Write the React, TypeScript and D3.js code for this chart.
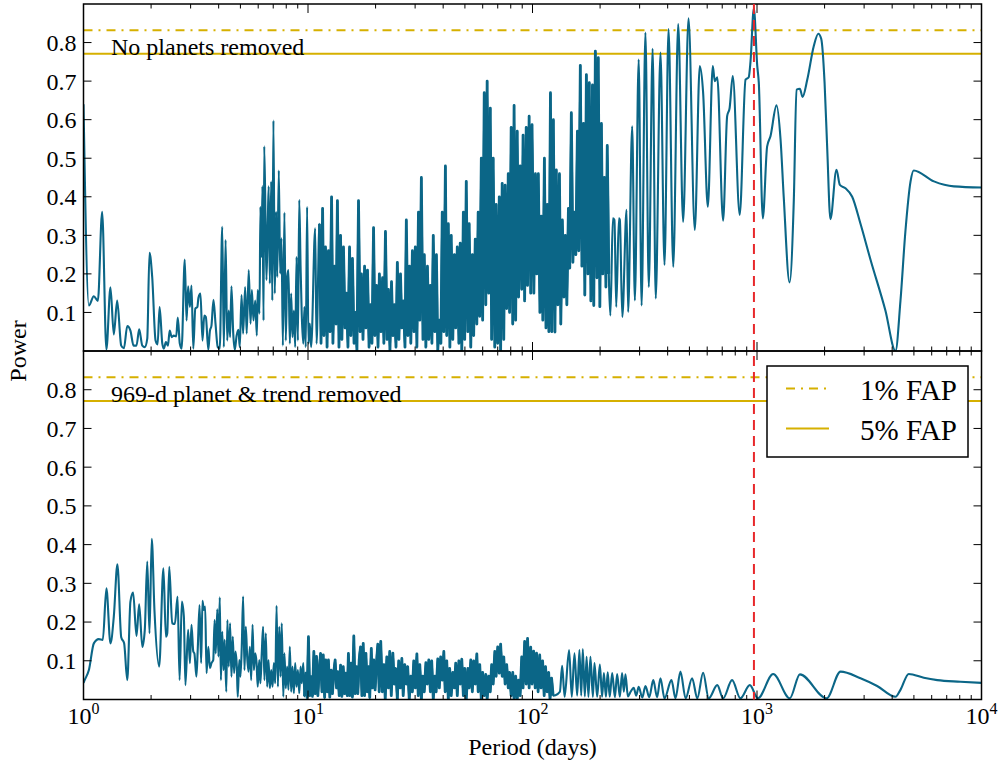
import React from 'react';
import * as d3 from 'd3';

// Axis set-up
const periodDomain: [number, number] = [1, 10000];
const powerDomain: [number, number] = [0, 0.9];
const powerTicks = [0.1, 0.2, 0.3, 0.4, 0.5, 0.6, 0.7, 0.8];
const periodDecades = [0, 1, 2, 3, 4];
const minorMultipliers = [2, 3, 4, 5, 6, 7, 8, 9];

// False-alarm-probability thresholds and the planet period (days)
const fap1 = 0.832;
const fap5 = 0.771;
const planetPeriod = 969;

const panelLabels = ['No planets removed', '969-d planet & trend removed'];
const legendLabels = ['1% FAP', '5% FAP'];
const xTitle = 'Period (days)';
const yTitle = 'Power';

// Periodogram samples as [log10(period / day), power]
const topShort: [number, number][] = [
  [0.000, 0.64], [0.024, 0.118], [0.046, 0.142], [0.064, 0.13], [0.083, 0.361], [0.102, 0.004], [0.120, 0.165], [0.135, 0.043],
  [0.150, 0.131], [0.168, 0.014], [0.180, 0.007], [0.195, 0.065], [0.209, 0.053], [0.223, 0.014], [0.236, 0.014], [0.248, 0.056],
  [0.262, 0.014], [0.273, 0.01], [0.284, 0.032], [0.294, 0.255], [0.306, 0.192], [0.321, 0.027], [0.330, 0.017], [0.339, 0.114],
  [0.351, 0.019], [0.358, 0.006], [0.367, 0.023], [0.376, 0.014], [0.384, 0.053], [0.393, 0.036], [0.402, 0.04], [0.413, 0.038],
  [0.420, 0.087], [0.429, 0.019], [0.437, 0.006], [0.451, 0.237], [0.459, 0.079], [0.466, 0.168], [0.474, 0.114], [0.481, 0.17],
  [0.489, 0.006], [0.498, 0.11], [0.507, 0.114], [0.512, 0.138], [0.521, 0.149], [0.530, 0.027], [0.538, 0.092], [0.545, 0.088],
  [0.556, 0.003], [0.563, 0.052], [0.570, 0.066], [0.579, 0.133], [0.588, 0.071], [0.598, 0.01], [0.607, 0.006], [0.618, 0.322],
  [0.625, 0.01], [0.633, 0.288], [0.640, 0.027], [0.647, 0.105], [0.653, 0.036], [0.659, 0.168], [0.667, 0.045], [0.674, 0.003],
  [0.682, 0.04], [0.690, 0.055], [0.696, 0.01], [0.704, 0.145], [0.711, 0.045], [0.720, 0.166], [0.727, 0.045], [0.736, 0.21],
  [0.744, 0.071], [0.750, 0.158], [0.757, 0.079], [0.765, 0.131], [0.772, 0.04], [0.776, 0.158], [0.784, 0.097], [0.788, 0.374],
  [0.793, 0.244], [0.797, 0.428], [0.802, 0.079], [0.805, 0.531], [0.811, 0.331], [0.815, 0.184], [0.821, 0.34], [0.825, 0.427],
  [0.830, 0.175], [0.836, 0.44], [0.841, 0.131], [0.846, 0.598], [0.852, 0.149], [0.858, 0.361], [0.863, 0.192], [0.870, 0.468],
  [0.876, 0.201], [0.882, 0.292], [0.888, 0.014], [0.895, 0.359], [0.901, 0.027], [0.907, 0.192], [0.913, 0.21], [0.919, 0.019],
  [0.925, 0.149], [0.931, 0.036], [0.937, 0.105], [0.943, 0.01], [0.949, 0.244], [0.955, 0.027], [0.961, 0.392], [0.967, 0.218],
  [0.972, 0.097], [0.979, 0.019], [0.984, 0.114], [0.990, 0.01], [0.996, 0.374], [1.002, 0.019], [1.008, 0.071], [1.014, 0.01],
  [1.032, 0.318], [1.038, 0.019],
];

const topMid: [number, number][] = [
  [1.051, 0.33], [1.058, 0.02], [1.065, 0.37], [1.071, 0.04], [1.078, 0.27], [1.085, 0.01], [1.091, 0.26], [1.098, 0.05], [1.105, 0.40], [1.111, 0.02],
  [1.118, 0.22], [1.125, 0.07], [1.131, 0.39], [1.138, 0.01], [1.145, 0.30], [1.151, 0.03], [1.158, 0.27], [1.165, 0.06], [1.171, 0.15], [1.178, 0.01],
  [1.185, 0.27], [1.191, 0.04], [1.198, 0.24], [1.205, 0.02], [1.211, 0.10], [1.218, 0.00], [1.225, 0.39], [1.232, 0.05], [1.238, 0.20], [1.245, 0.03],
  [1.252, 0.22], [1.258, 0.06], [1.265, 0.21], [1.272, 0.01], [1.278, 0.12], [1.285, 0.02], [1.292, 0.32], [1.298, 0.04], [1.305, 0.17], [1.312, 0.01],
  [1.318, 0.20], [1.325, 0.05], [1.332, 0.19], [1.338, 0.02], [1.345, 0.31], [1.352, 0.03], [1.358, 0.16], [1.365, 0.00], [1.372, 0.18], [1.378, 0.04],
  [1.385, 0.12], [1.392, 0.01], [1.398, 0.23], [1.405, 0.03], [1.412, 0.20], [1.418, 0.06], [1.425, 0.13], [1.432, 0.01], [1.438, 0.34], [1.445, 0.04],
  [1.452, 0.22], [1.458, 0.02], [1.465, 0.26], [1.472, 0.05], [1.478, 0.27], [1.485, 0.01], [1.492, 0.36], [1.498, 0.08], [1.505, 0.45], [1.512, 0.03],
  [1.518, 0.25], [1.525, 0.01], [1.532, 0.22], [1.538, 0.03], [1.545, 0.17], [1.552, 0.02], [1.558, 0.30], [1.565, 0.05], [1.572, 0.25], [1.578, 0.00],
  [1.585, 0.08], [1.592, 0.02], [1.598, 0.36], [1.605, 0.05], [1.612, 0.48], [1.618, 0.04], [1.625, 0.33], [1.632, 0.01], [1.638, 0.30], [1.645, 0.03],
  [1.652, 0.25], [1.658, 0.06], [1.665, 0.27], [1.672, 0.02], [1.678, 0.28], [1.685, 0.00], [1.692, 0.36], [1.698, 0.03], [1.705, 0.44], [1.712, 0.05],
  [1.718, 0.33], [1.725, 0.01], [1.732, 0.25], [1.738, 0.04], [1.745, 0.29], [1.752, 0.07], [1.758, 0.36], [1.765, 0.09], [1.772, 0.50], [1.778, 0.08],
  [1.785, 0.67], [1.792, 0.12], [1.798, 0.70], [1.805, 0.15], [1.812, 0.63], [1.818, 0.03], [1.825, 0.50], [1.832, 0.01], [1.838, 0.38], [1.845, 0.02],
  [1.852, 0.40], [1.858, 0.00], [1.865, 0.435], [1.872, 0.03], [1.878, 0.43], [1.885, 0.11], [1.892, 0.46], [1.898, 0.10], [1.905, 0.58], [1.912, 0.07],
  [1.918, 0.637], [1.925, 0.08], [1.932, 0.57], [1.938, 0.14], [1.945, 0.48], [1.952, 0.16], [1.958, 0.56], [1.965, 0.13], [1.972, 0.58], [1.978, 0.17],
  [1.985, 0.609], [1.992, 0.15], [1.998, 0.587], [2.006, 0.15], [2.013, 0.46], [2.019, 0.2], [2.026, 0.46], [2.033, 0.10], [2.039, 0.35], [2.046, 0.08],
  [2.053, 0.50], [2.060, 0.06], [2.066, 0.38], [2.073, 0.05], [2.080, 0.67], [2.086, 0.05], [2.093, 0.60], [2.100, 0.049], [2.106, 0.47], [2.113, 0.12],
  [2.120, 0.46], [2.126, 0.07], [2.133, 0.34], [2.140, 0.14], [2.146, 0.30], [2.153, 0.12], [2.160, 0.37], [2.166, 0.215], [2.173, 0.618], [2.180, 0.23],
  [2.186, 0.36], [2.193, 0.25], [2.200, 0.57], [2.206, 0.26], [2.213, 0.741], [2.220, 0.22], [2.227, 0.59], [2.233, 0.145], [2.240, 0.717], [2.247, 0.2],
  [2.253, 0.696], [2.260, 0.13], [2.267, 0.69], [2.273, 0.118], [2.280, 0.778], [2.287, 0.19], [2.293, 0.761], [2.300, 0.115], [2.307, 0.59], [2.313, 0.2],
  [2.320, 0.45], [2.327, 0.166], [2.333, 0.533], [2.340, 0.2],
];

const topLong: [number, number][] = [
  [2.347, 0.092], [2.358, 0.344], [2.365, 0.34], [2.373, 0.114], [2.385, 0.344], [2.389, 0.34], [2.400, 0.088], [2.419, 0.366],
  [2.426, 0.101], [2.444, 0.583], [2.456, 0.131], [2.473, 0.756], [2.486, 0.118], [2.503, 0.826], [2.518, 0.166], [2.535, 0.784],
  [2.549, 0.136], [2.570, 0.774], [2.588, 0.223], [2.606, 0.835], [2.627, 0.218], [2.649, 0.848], [2.671, 0.335], [2.695, 0.863],
  [2.723, 0.314], [2.745, 0.739], [2.760, 0.67], [2.781, 0.374], [2.803, 0.739], [2.812, 0.70], [2.823, 0.71], [2.849, 0.338],
  [2.867, 0.609], [2.878, 0.63], [2.892, 0.713], [2.923, 0.353], [2.949, 0.704], [2.963, 0.71], [2.971, 0.75], [2.986, 0.889],
  [3.001, 0.74], [3.008, 0.696], [3.026, 0.344], [3.045, 0.53], [3.060, 0.557], [3.087, 0.637], [3.105, 0.548], [3.119, 0.40],
  [3.145, 0.178], [3.164, 0.392], [3.176, 0.678], [3.191, 0.68], [3.203, 0.659], [3.224, 0.704], [3.253, 0.791], [3.273, 0.823],
  [3.286, 0.81], [3.301, 0.696], [3.313, 0.522], [3.327, 0.342], [3.354, 0.47], [3.369, 0.431], [3.394, 0.422], [3.424, 0.40],
  [3.461, 0.33], [3.506, 0.236], [3.572, 0.105], [3.617, 0.0], [3.639, 0.13], [3.661, 0.31], [3.684, 0.44], [3.698, 0.468],
  [3.788, 0.44], [3.877, 0.427], [4.0, 0.424],
];

const bottomShort: [number, number][] = [
  [0.000, 0.043], [0.005, 0.05], [0.024, 0.076], [0.046, 0.145], [0.068, 0.156], [0.086, 0.154], [0.102, 0.287], [0.120, 0.145],
  [0.135, 0.214], [0.151, 0.349], [0.168, 0.161], [0.181, 0.145], [0.195, 0.05], [0.209, 0.253], [0.221, 0.276], [0.236, 0.164],
  [0.248, 0.246], [0.262, 0.136], [0.273, 0.18], [0.284, 0.356], [0.294, 0.171], [0.304, 0.415], [0.316, 0.231], [0.337, 0.085],
  [0.356, 0.339], [0.367, 0.162], [0.373, 0.171], [0.382, 0.343], [0.395, 0.197], [0.407, 0.195], [0.419, 0.266], [0.428, 0.05],
  [0.438, 0.253], [0.447, 0.214], [0.454, 0.037], [0.466, 0.18], [0.474, 0.094], [0.481, 0.193], [0.489, 0.124], [0.494, 0.119],
  [0.503, 0.059], [0.509, 0.132], [0.517, 0.244], [0.524, 0.094], [0.530, 0.255], [0.536, 0.231], [0.542, 0.24], [0.548, 0.068],
  [0.556, 0.136], [0.563, 0.081], [0.570, 0.094], [0.578, 0.102], [0.584, 0.205], [0.589, 0.119], [0.596, 0.233], [0.601, 0.111],
  [0.607, 0.264], [0.612, 0.05], [0.618, 0.175], [0.624, 0.076], [0.629, 0.154], [0.636, 0.02], [0.641, 0.205], [0.647, 0.085],
  [0.653, 0.197], [0.659, 0.059], [0.665, 0.162], [0.671, 0.068], [0.677, 0.124], [0.683, 0.085], [0.687, 0.007], [0.694, 0.102],
  [0.699, 0.059], [0.705, 0.136], [0.711, 0.266], [0.717, 0.076], [0.723, 0.188], [0.729, 0.111], [0.735, 0.072], [0.741, 0.136],
  [0.747, 0.05], [0.753, 0.193], [0.759, 0.076], [0.765, 0.119], [0.771, 0.094], [0.776, 0.033], [0.783, 0.102], [0.788, 0.042],
  [0.794, 0.119], [0.800, 0.188], [0.806, 0.05], [0.812, 0.171], [0.818, 0.033], [0.824, 0.102], [0.830, 0.029], [0.836, 0.076],
  [0.842, 0.033], [0.848, 0.094], [0.854, 0.042], [0.860, 0.242], [0.866, 0.033], [0.872, 0.188], [0.878, 0.059], [0.883, 0.197],
  [0.890, 0.007], [0.895, 0.119], [0.901, 0.029], [0.907, 0.085], [0.913, 0.025], [0.919, 0.136], [0.925, 0.02], [0.931, 0.085],
  [0.937, 0.016], [0.943, 0.094], [0.949, 0.033], [0.955, 0.076], [0.961, 0.016], [0.967, 0.085], [0.972, 0.042], [0.979, 0.094],
];

const bottomMid: [number, number][] = [
  [0.984, 0.008], [0.990, 0.068], [0.996, 0.005], [1.002, 0.162], [1.008, 0.01], [1.014, 0.059], [1.020, 0.008], [1.026, 0.124],
  [1.032, 0.015], [1.038, 0.111], [1.044, 0.01], [1.050, 0.076], [1.056, 0.119], [1.062, 0.02], [1.068, 0.115], [1.074, 0.005],
  [1.079, 0.102], [1.086, 0.02], [1.091, 0.102], [1.097, 0.006], [1.103, 0.076], [1.109, 0.015], [1.115, 0.072], [1.121, 0.102],
  [1.127, 0.03], [1.133, 0.072], [1.139, 0.01], [1.145, 0.089], [1.151, 0.008], [1.157, 0.085], [1.163, 0.015], [1.168, 0.068],
  [1.175, 0.01], [1.180, 0.119], [1.186, 0.01], [1.192, 0.094], [1.198, 0.006], [1.204, 0.164], [1.210, 0.015], [1.216, 0.085],
  [1.222, 0.015], [1.228, 0.102], [1.234, 0.136], [1.240, 0.01], [1.246, 0.145], [1.252, 0.01], [1.258, 0.119], [1.264, 0.02],
  [1.270, 0.085], [1.275, 0.005], [1.282, 0.132], [1.287, 0.03], [1.293, 0.102], [1.299, 0.025], [1.305, 0.094], [1.311, 0.143],
  [1.317, 0.02],
  [1.324, 0.15], [1.331, 0.02], [1.338, 0.09], [1.344, 0.00], [1.351, 0.11], [1.358, 0.03], [1.364, 0.124], [1.371, 0.01], [1.378, 0.12], [1.384, 0.04],
  [1.391, 0.08], [1.398, 0.00], [1.404, 0.10], [1.411, 0.03], [1.418, 0.106], [1.424, 0.01], [1.431, 0.09], [1.438, 0.04], [1.444, 0.085], [1.451, 0.00],
  [1.458, 0.06], [1.465, 0.02], [1.471, 0.10], [1.478, 0.03], [1.485, 0.118], [1.491, 0.01], [1.498, 0.09], [1.505, 0.00], [1.511, 0.06], [1.518, 0.02],
  [1.525, 0.095], [1.531, 0.04], [1.538, 0.102], [1.545, 0.02], [1.551, 0.10], [1.558, 0.00], [1.565, 0.06], [1.571, 0.02], [1.578, 0.105], [1.585, 0.03],
  [1.591, 0.11], [1.598, 0.05], [1.605, 0.124], [1.611, 0.02], [1.618, 0.10], [1.625, 0.00], [1.631, 0.08], [1.638, 0.01], [1.645, 0.07], [1.652, 0.03],
  [1.658, 0.094], [1.665, 0.01], [1.672, 0.10], [1.678, 0.04], [1.685, 0.104], [1.692, 0.01], [1.698, 0.08], [1.705, 0.00], [1.712, 0.08], [1.718, 0.03],
  [1.725, 0.102], [1.732, 0.02], [1.738, 0.10], [1.745, 0.04], [1.752, 0.118], [1.758, 0.02], [1.765, 0.09], [1.772, 0.00], [1.778, 0.07], [1.785, 0.01],
  [1.792, 0.065], [1.798, 0.00], [1.805, 0.06], [1.812, 0.02], [1.818, 0.09], [1.825, 0.04], [1.832, 0.124], [1.838, 0.06], [1.845, 0.136], [1.852, 0.068],
  [1.858, 0.143], [1.865, 0.06], [1.872, 0.11], [1.878, 0.04], [1.885, 0.09], [1.892, 0.03], [1.898, 0.07], [1.905, 0.01], [1.912, 0.07], [1.918, 0.00],
  [1.925, 0.06], [1.932, 0.00], [1.938, 0.05], [1.945, 0.01], [1.952, 0.11], [1.958, 0.03], [1.965, 0.15], [1.972, 0.04], [1.978, 0.158], [1.985, 0.03],
  [1.992, 0.135], [1.998, 0.04], [2.005, 0.125], [2.012, 0.03], [2.018, 0.12], [2.025, 0.02], [2.032, 0.115], [2.038, 0.03], [2.045, 0.10], [2.052, 0.01],
  [2.058, 0.085], [2.065, 0.02], [2.072, 0.07], [2.078, 0.00], [2.085, 0.055], [2.092, 0.01],
];

const bottomLong: [number, number][] = [
  [2.102, 0.011], [2.122, 0.02], [2.132, 0.087], [2.143, 0.007], [2.163, 0.128], [2.175, 0.007], [2.187, 0.119], [2.199, 0.01],
  [2.209, 0.128], [2.217, 0.01], [2.224, 0.13], [2.233, 0.008], [2.241, 0.11], [2.249, 0.007], [2.258, 0.11], [2.269, 0.007],
  [2.276, 0.094], [2.288, 0.007], [2.300, 0.09], [2.310, 0.007], [2.318, 0.068], [2.327, 0.007], [2.335, 0.07], [2.344, 0.007],
  [2.355, 0.068], [2.367, 0.006], [2.377, 0.066], [2.389, 0.007], [2.399, 0.068], [2.407, 0.02], [2.414, 0.065], [2.425, 0.008],
  [2.437, 0.02], [2.451, 0.03], [2.462, 0.01], [2.473, 0.033], [2.489, 0.005], [2.503, 0.035], [2.520, 0.006], [2.538, 0.05],
  [2.555, 0.006], [2.570, 0.055], [2.588, 0.003], [2.619, 0.05], [2.637, 0.003], [2.659, 0.072], [2.682, 0.003], [2.711, 0.055],
  [2.734, 0.003], [2.760, 0.069], [2.785, 0.003], [2.823, 0.037], [2.849, 0.003], [2.889, 0.05], [2.926, 0.003], [2.968, 0.037],
  [3.004, 0.003], [3.072, 0.066], [3.146, 0.003], [3.191, 0.065], [3.310, 0.003], [3.372, 0.072], [3.461, 0.055], [3.535, 0.035],
  [3.617, 0.007], [3.639, 0.025], [3.676, 0.066], [3.743, 0.056], [3.803, 0.05], [3.906, 0.046], [4.0, 0.043],
];

type Sample = { period: number; power: number };
const toSamples = (rows: [number, number][]): Sample[] => rows.map(([lp, p]) => ({ period: Math.pow(10, lp), power: p }));

const topSeries = toSamples([...topShort, ...topMid, ...topLong]);
const bottomSeries = toSamples([...bottomShort, ...bottomMid, ...bottomLong]);
const topDense = toSamples(topMid);
const bottomDense = toSamples(bottomMid);

const W = 1003;
const H = 766;
const plotLeft = 83.5;
const plotRight = 981.5;
const LINE = '#0b6687';
const GOLD = '#d6b000';
const RED = '#e8282b';
const FONT = "'Liberation Serif', 'Times New Roman', Times, serif";

const panels = [
  { top: 4, bottom: 351, label: panelLabels[0], data: topSeries, dense: topDense },
  { top: 351, bottom: 699.5, label: panelLabels[1], data: bottomSeries, dense: bottomDense },
];

export default function App() {
  const x = d3.scaleLog().domain(periodDomain).range([plotLeft, plotRight]);
  const majorPeriods = periodDecades.map((d) => Math.pow(10, d));
  const minorPeriods = periodDecades.slice(0, -1).flatMap((d) => minorMultipliers.map((m) => m * Math.pow(10, d)));

  return (
    <svg width={W} height={H} style={{ position: 'absolute', left: 0, top: 0, background: '#fff' }} fontFamily={FONT}>
      <rect x={0} y={0} width={W} height={H} fill="#fff" />
      <defs>
        {panels.map((p, i) => (
          <clipPath id={`clip${i}`} key={i}>
            <rect x={plotLeft} y={p.top} width={plotRight - plotLeft} height={p.bottom - p.top} />
          </clipPath>
        ))}
      </defs>
      {panels.map((p, i) => {
        const y = d3.scaleLinear().domain(powerDomain).range([p.bottom, p.top]);
        const line = d3
          .line<Sample>()
          .x((d) => x(d.period))
          .y((d) => y(d.power))
          .curve(d3.curveMonotoneX);
        const denseLine = d3
          .line<Sample>()
          .x((d) => x(d.period))
          .y((d) => y(d.power));
        return (
          <g key={i}>
            <g clipPath={`url(#clip${i})`}>
              <line x1={plotLeft} x2={plotRight} y1={y(fap1)} y2={y(fap1)} stroke={GOLD} strokeWidth={2} strokeDasharray="9 6 2 6" />
              <line x1={plotLeft} x2={plotRight} y1={y(fap5)} y2={y(fap5)} stroke={GOLD} strokeWidth={2} />
              <path d={line(p.data) || ''} fill="none" stroke={LINE} strokeWidth={2.1} strokeLinejoin="round" />
              {/* tightly packed oscillations read as a solid band */}
              <path d={denseLine(p.dense) || ''} fill="none" stroke={LINE} strokeWidth={2.8} strokeLinejoin="round" />
            </g>
            {powerTicks.map((t) => (
              <g key={t}>
                <line x1={plotLeft} x2={plotLeft + 8} y1={y(t)} y2={y(t)} stroke="#000" strokeWidth={1} />
                <line x1={plotRight - 8} x2={plotRight} y1={y(t)} y2={y(t)} stroke="#000" strokeWidth={1} />
                <text x={plotLeft - 7} y={y(t)} dy="0.35em" textAnchor="end" fontSize={24} fill="#000">
                  {t.toFixed(1)}
                </text>
              </g>
            ))}
            {majorPeriods.map((v) => (
              <g key={`M${v}`}>
                <line x1={x(v)} x2={x(v)} y1={p.top} y2={p.top + 9} stroke="#000" strokeWidth={1} />
                <line x1={x(v)} x2={x(v)} y1={p.bottom - 9} y2={p.bottom} stroke="#000" strokeWidth={1} />
              </g>
            ))}
            {minorPeriods.map((v) => (
              <g key={`m${v}`}>
                <line x1={x(v)} x2={x(v)} y1={p.top} y2={p.top + 4.5} stroke="#000" strokeWidth={1} />
                <line x1={x(v)} x2={x(v)} y1={p.bottom - 4.5} y2={p.bottom} stroke="#000" strokeWidth={1} />
              </g>
            ))}
            <rect x={plotLeft} y={p.top} width={plotRight - plotLeft} height={p.bottom - p.top} fill="none" stroke="#000" strokeWidth={1.5} />
            <text x={111} y={y(fap5) + 1.5} fontSize={24} fill="#000">
              {p.label}
            </text>
          </g>
        );
      })}
      {/* planet period marker across both panels */}
      <line x1={x(planetPeriod)} x2={x(planetPeriod)} y1={panels[0].top} y2={panels[1].bottom} stroke={RED} strokeWidth={2} strokeDasharray="10 6" />
      {/* legend */}
      <g>
        <rect x={767} y={366} width={201} height={91} fill="#fff" stroke="#000" strokeWidth={1.5} />
        <line x1={786} x2={829} y1={388.5} y2={388.5} stroke={GOLD} strokeWidth={2} strokeDasharray="9 6 2 6" />
        <line x1={786} x2={829} y1={428.5} y2={428.5} stroke={GOLD} strokeWidth={2} />
        <text x={957} y={399.5} textAnchor="end" fontSize={29} fill="#000">{legendLabels[0]}</text>
        <text x={957} y={439.5} textAnchor="end" fontSize={29} fill="#000">{legendLabels[1]}</text>
      </g>
      {periodDecades.map((d) => (
        <text key={d} x={x(Math.pow(10, d))} y={724} textAnchor="middle" fontSize={24} fill="#000">
          <tspan>10</tspan>
          <tspan dy={-10} fontSize={16}>{d}</tspan>
        </text>
      ))}
      <text x={(plotLeft + plotRight) / 2} y={755} textAnchor="middle" fontSize={24} fill="#000">
        {xTitle}
      </text>
      <text transform={`translate(26, 351) rotate(-90)`} textAnchor="middle" fontSize={24} fill="#000">
        {yTitle}
      </text>
    </svg>
  );
}
